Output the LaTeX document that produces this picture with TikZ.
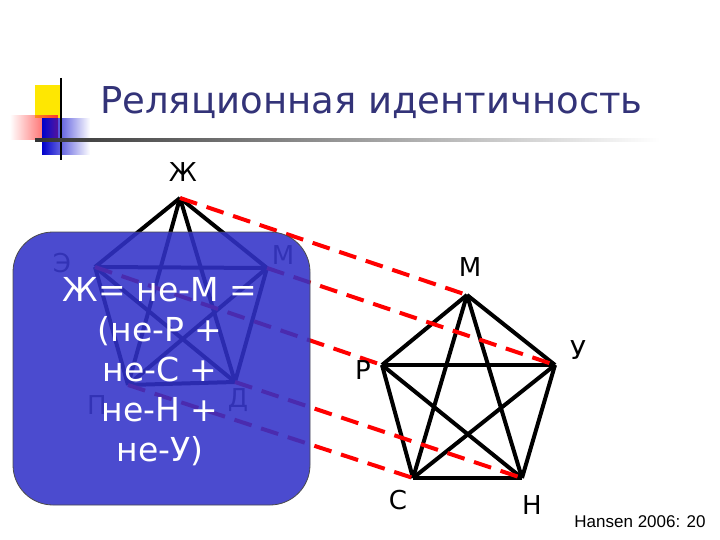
\documentclass[tikz,border=0pt]{standalone}
\usepackage{fontspec}
\setmainfont{DejaVu Sans}
\newfontfamily\arialf{Liberation Sans}
\usetikzlibrary{fadings}
\begin{document}
\begin{tikzpicture}[x=1pt,y=-1pt,
  edge/.style={line width=4pt,black},
  link/.style={line width=4pt,red,dash pattern=on 18pt off 10pt},
  lbl/.style={font=\fontsize{26}{26}\selectfont,inner sep=0pt},
  dim/.style={lbl,text=black!80}]
\useasboundingbox (0,0) rectangle (720,540);
% logo
\fill[yellow!90!orange] (35,85) rectangle (62,118);
\fill[red!80,path fading=west] (10,115) rectangle (58,140);
\fill[blue!80!black,path fading=east] (42,118) rectangle (90,155);
\draw[line width=2pt] (61,78) -- (61,160);
\shade[left color=black!80,right color=white] (35,139) rectangle (660,142);
\node[anchor=west,inner sep=0pt,text={rgb,255:red,51;green,51;blue,120},font=\fontsize{37}{37}\selectfont] (title) at (100,103) {Реляционная идентичность};
% left pentagon
\coordinate (J) at (180,198);
\coordinate (E) at (95,267);
\coordinate (M1) at (267,268);
\coordinate (P) at (128,385);
\coordinate (D) at (235,382);
\foreach \a/\b in {J/E,J/M1,J/P,J/D,E/M1,E/P,E/D,M1/P,M1/D,P/D}\draw[edge] (\a)--(\b);
% right pentagon
\coordinate (M2) at (467,295);
\coordinate (R) at (382,365);
\coordinate (U) at (555,365);
\coordinate (S) at (413,478);
\coordinate (N) at (522,478);
\foreach \a/\b in {M2/R,M2/U,M2/S,M2/N,R/U,R/S,R/N,U/S,U/N,S/N}\draw[edge] (\a)--(\b);
% links
\draw[link] (J)--(M2);
\draw[link] (M1)--(U);
\draw[link] (E)--(R);
\draw[link] (D)--(N);
\draw[link] (P)--(S);
% labels
\node[lbl] (lJ) at (183,172) {Ж};
\node[dim] (lE) at (62,263) {Э};
\node[dim] (lM1) at (283,255) {М};
\node[dim] (lP) at (97,405) {П};
\node[dim] (lD) at (238,400) {Д};
\node[lbl] (lM2) at (470,267) {М};
\node[lbl] (lU) at (578,350) {У};
\node[lbl] (lR) at (363,370) {Р};
\node[lbl] (lS) at (398,500) {С};
\node[lbl] (lN) at (532,505) {Н};
% box
\fill[rounded corners=40pt,fill={rgb,255:red,50;green,50;blue,200},fill opacity=0.88] (13,232) rectangle (310,505);
\draw[rounded corners=40pt,black!70,line width=0.8pt] (13,232) rectangle (310,505);
\node[text=white,align=center,font=\fontsize{33}{40}\selectfont,inner sep=0pt] (eq) at (160,372) {Ж= не-М =\\(не-Р +\\не-С +\\не-Н +\\не-У)};
\node[inner sep=0pt,font=\arialf\fontsize{17}{17}\selectfont] (src) at (640,522) {Hansen 2006: 20};
\end{tikzpicture}
\end{document}
